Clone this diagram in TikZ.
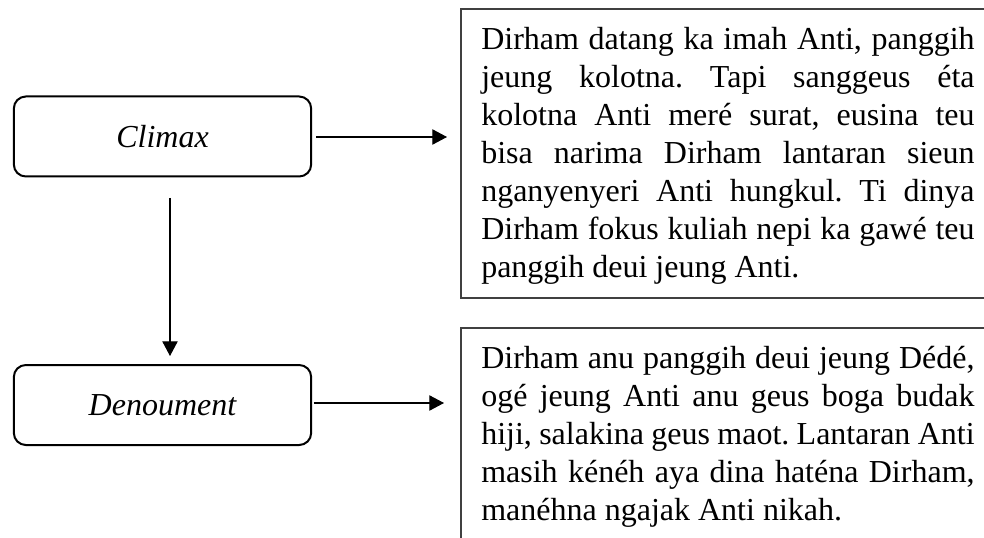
\documentclass[tikz,border=0pt]{standalone}
\usepackage{fontspec}
\setmainfont{Liberation Serif}
\usetikzlibrary{arrows.meta}
\frenchspacing
\begin{document}
\begin{tikzpicture}[x=0.75pt,y=-0.75pt,
  lbl/.style={draw=black, line width=1.5pt, rounded corners=9pt, minimum width=223pt, minimum height=60pt, font=\fontsize{24}{28.5}\selectfont\itshape, inner sep=0pt},
  para/.style={anchor=base west, inner sep=0pt, text width=370pt, align=justify, font=\fontsize{24}{28.5}\selectfont},
  frame/.style={draw=black!75, line width=1pt},
  arr/.style={draw=black, line width=0.8pt, -{Triangle[length=11pt,width=11.5pt]}}]
\useasboundingbox (0,0) rectangle (984,538);
\clip (0,0) rectangle (984,538);
% left boxes
\node[lbl] (climax) at (162.5,136.5) {Climax};
\node[lbl] (denou) at (162.5,405) {Denoument};
% right frames
\draw[frame] (1000,9) -- (461,9) -- (461,298) -- (1000,298);
\draw[frame] (1000,328) -- (461,328) -- (461,560);
% texts
\node[para] (t1) at (481,50) {Dirham datang ka imah Anti, panggih\linebreak jeung kolotna. Tapi sanggeus éta\linebreak kolotna Anti meré surat, eusina teu\linebreak bisa narima Dirham lantaran sieun\linebreak nganyenyeri Anti hungkul. Ti dinya\linebreak Dirham fokus kuliah nepi ka gawé teu\linebreak panggih deui jeung Anti.};
\node[para] (t2) at (481,368) {Dirham anu panggih deui jeung Dédé,\linebreak ogé jeung Anti anu geus boga budak\linebreak hiji, salakina geus maot. Lantaran Anti\linebreak masih kénéh aya dina haténa Dirham,\linebreak manéhna ngajak Anti nikah.};
% arrows
\coordinate (a1) at (447,137);
\coordinate (a2) at (444,403);
\coordinate (v1) at (170,198);
\coordinate (v2) at (170,356);
\draw[arr] ([xshift=3pt]climax.east |- a1) -- (a1);
\draw[arr] ([xshift=1pt]denou.east |- a2) -- (a2);
\draw[arr] (v1) -- (v2);
\end{tikzpicture}
\end{document}
